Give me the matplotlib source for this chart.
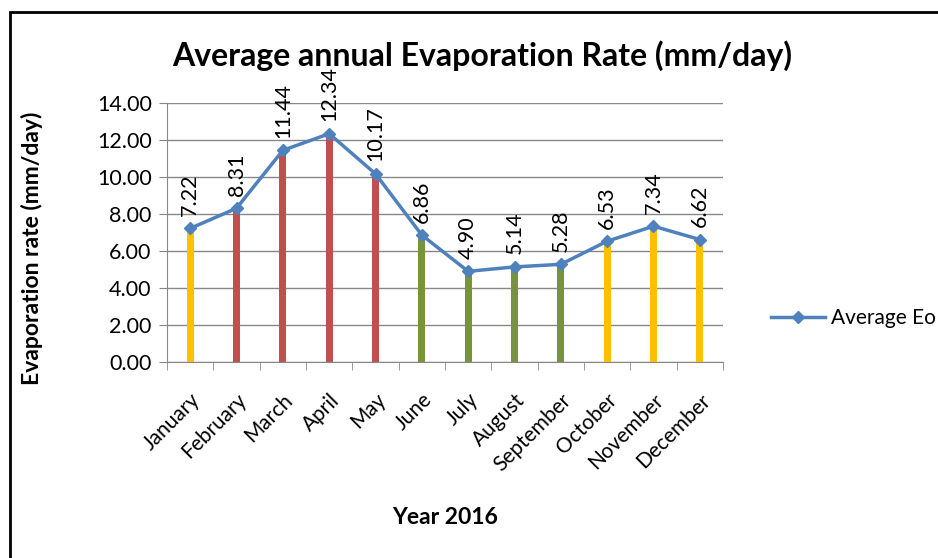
import matplotlib.pyplot as plt
from matplotlib.patches import Rectangle
from matplotlib.transforms import ScaledTranslation

months = ["January", "February", "March", "April", "May", "June", "July",
          "August", "September", "October", "November", "December"]
evap = [7.22, 8.31, 11.44, 12.34, 10.17, 6.86, 4.90, 5.14, 5.28, 6.53, 7.34, 6.62]
bar_colors = ["#FFC000", "#C0504D", "#C0504D", "#C0504D", "#C0504D", "#77933C",
              "#77933C", "#77933C", "#77933C", "#FFC000", "#FFC000", "#FFC000"]

plt.rcParams['font.family'] = ['Lato', 'DejaVu Sans']

fig = plt.figure(figsize=(9.38, 5.58), dpi=100)
ax = fig.add_axes([167 / 938, 1 - 362 / 558, (723 - 167) / 938, (362 - 103) / 558])

x = range(len(months))
ax.bar(x, evap, width=0.15, color=bar_colors, zorder=2)
ax.plot(x, evap, color="#4F81BD", lw=2.5, marker="D", ms=6.5, label="Average Eo", zorder=3)

for i, v in enumerate(evap):
    ax.annotate("%.2f" % v, (i, v), xytext=(0, 9), textcoords="offset points",
                rotation=90, ha="center", va="bottom", fontsize=15.5)

ax.set_xlim(-0.5, len(months) - 0.5)
ax.set_ylim(0, 14)
ax.set_yticks(range(0, 15, 2))
ax.set_yticklabels(["%.2f" % t for t in range(0, 15, 2)], fontsize=15.5)
ax.set_xticks(x)
ax.set_xticklabels(months, rotation=45, ha="right", rotation_mode="anchor", fontsize=15)
shift = ScaledTranslation(4 / 100, 0, fig.dpi_scale_trans)
for lbl in ax.get_xticklabels():
    lbl.set_transform(lbl.get_transform() + shift)
ax.set_xticks([i - 0.5 for i in range(len(months) + 1)], minor=True)
ax.tick_params(axis="x", which="major", length=0, pad=20)
ax.tick_params(axis="x", which="minor", length=6, color="#888888")
ax.tick_params(axis="y", length=6, color="#888888", pad=5)

ax.grid(axis="y", color="#888888", lw=1, zorder=0)
for s in ["top", "right"]:
    ax.spines[s].set_visible(False)
ax.spines["left"].set_color("#888888")
ax.spines["bottom"].set_color("#888888")

fig.text(32 / 938, 1 - 248 / 558, "Evaporation rate (mm/day)", rotation=90,
         ha="center", va="center", fontsize=16.5, fontweight="bold")
fig.text(445 / 938, 1 - 518 / 558, "Year 2016", ha="center", va="center",
         fontsize=16.5, fontweight="bold")
fig.text(482 / 938, 1 - 56 / 558, "Average annual Evaporation Rate (mm/day)",
         ha="center", va="center", fontsize=23, fontweight="bold")

fig.legend(loc="center left", bbox_to_anchor=(752 / 938, 1 - 318 / 558),
           frameon=False, fontsize=15, handlelength=2.6, handletextpad=0.3)

fig.patches.append(Rectangle((10 / 938, -0.1), 1.0, 1 - 12 / 558 + 0.1,
                             transform=fig.transFigure, fill=False,
                             edgecolor="black", lw=2))

fig.savefig("out.png", dpi=100)
